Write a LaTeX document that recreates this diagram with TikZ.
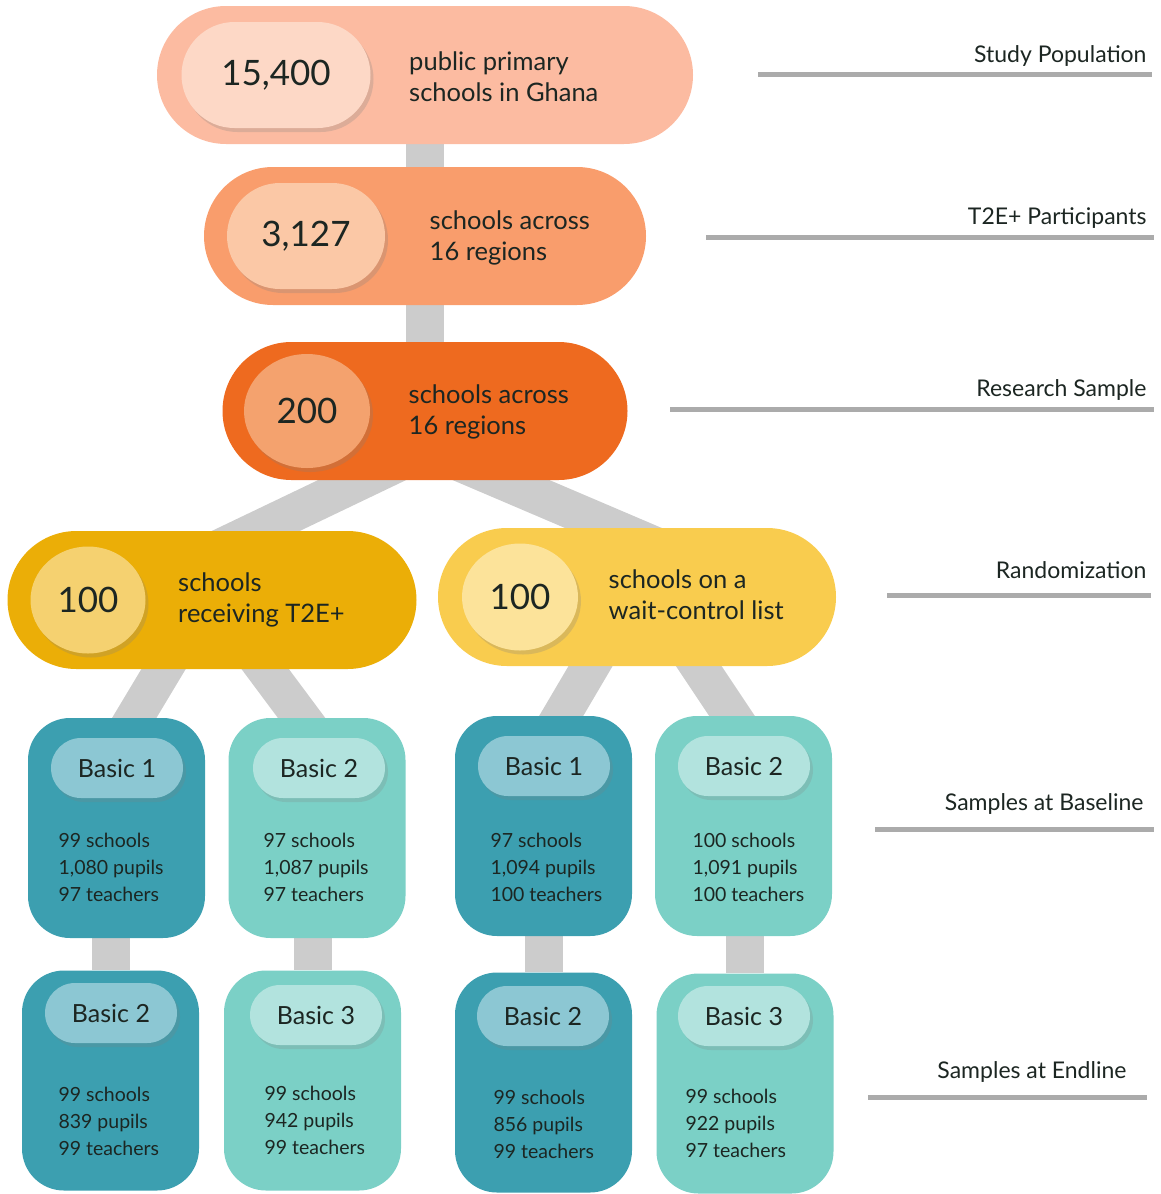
\documentclass[tikz,border=0pt]{standalone}
\usepackage{fontspec}
\setmainfont{Lato}
\usepackage{tikz}
\usetikzlibrary{
    shapes.geometric,
    shapes.misc,
    positioning,
    calc,
    shadows,
    backgrounds,
}
\usepackage{xcolor}
\definecolor{inkdark}{HTML}{1C2622}
\definecolor{popouter}{HTML}{FCBBA1}
\definecolor{popinner}{HTML}{FDD8C6}
\definecolor{partouter}{HTML}{F99D6C}
\definecolor{partinner}{HTML}{FBC8A6}
\definecolor{sampouter}{HTML}{EE6A1F}
\definecolor{sampinner}{HTML}{F4A26E}
\definecolor{treatouter}{HTML}{EBAE07}
\definecolor{treatinner}{HTML}{F5D170}
\definecolor{waitouter}{HTML}{F9CC4E}
\definecolor{waitinner}{HTML}{FCE39A}
\definecolor{tealdark}{HTML}{3C9FB0}
\definecolor{tagdark}{HTML}{8CC7D3}
\definecolor{teallight}{HTML}{7BD0C6}
\definecolor{taglight}{HTML}{B2E3DE}
\definecolor{bargray}{HTML}{CCCCCC}
\definecolor{rulegray}{HTML}{ABABAB}
\newcommand{\bigfont}{\fontsize{35}{40}\selectfont}
\newcommand{\midfont}{\fontsize{25.5}{31}\selectfont}
\newcommand{\tagfont}{\fontsize{25}{28}\selectfont}
\newcommand{\datafont}{\fontsize{19.5}{27}\selectfont}
\newcommand{\stagefont}{\fontsize{23}{26}\selectfont}

\begin{document}
\begin{tikzpicture}[
    x=1pt, y=-1pt,
    every node/.style = {text=inkdark},
    pill/.style   = {rounded rectangle, minimum height=138pt, inner sep=0pt},
    numpill/.style = {rounded rectangle, minimum height=106pt, inner sep=0pt,
                      font=\bigfont,
                      drop shadow={shadow xshift=3pt, shadow yshift=-4pt,
                                   opacity=0.25}},
    numdisc/.style = {ellipse, inner sep=0pt, font=\bigfont,
                      drop shadow={shadow xshift=3pt, shadow yshift=-4pt,
                                   opacity=0.25}},
    blurb/.style  = {font=\midfont, align=left},
    gradebox/.style = {rectangle, rounded corners=42pt,
                       minimum width=177pt, minimum height=220pt},
    darkbox/.style  = {gradebox, fill=tealdark},
    lightbox/.style = {gradebox, fill=teallight},
    gradetag/.style = {rounded rectangle, minimum width=132pt,
                       minimum height=60pt, inner sep=0pt, font=\tagfont,
                       drop shadow={shadow xshift=3pt, shadow yshift=-4pt,
                                    opacity=0.22}},
    counts/.style = {font=\datafont, align=left, anchor=west},
    bar/.style    = {draw=bargray, line width=38pt},
    stage/.style  = {font=\stagefont, anchor=base east},
    rule/.style   = {draw=rulegray, line width=5pt},
]
\useasboundingbox (0,0) rectangle (1160,1194);

%% -- Funnel: population, participants, sample --------------------------------
\node[pill, fill=popouter,  minimum width=536pt] (pop)  at (425,  75) {};
\node[pill, fill=partouter, minimum width=442pt] (part) at (425, 236) {};
\node[pill, fill=sampouter, minimum width=405pt] (samp) at (425, 411) {};

\node[numpill, fill=popinner,  minimum width=189pt] (n15400) at (276,  75) {15,400};
\node[numpill, fill=partinner, minimum width=158pt] (n3127)  at (306, 236) {3,127};
\node[numdisc, fill=sampinner, minimum width=126pt, minimum height=114pt]
    (n200) at (307, 411) {200};

\node[blurb, right=35pt of n15400, yshift=-2pt] {public primary\\schools in Ghana};
\node[blurb, right=41pt of n3127,  yshift=-2pt] {schools across\\16 regions};
\node[blurb, right=35pt of n200,   yshift=-1pt] {schools across\\16 regions};

%% -- Randomization --------------------------------------------------------------
\node[pill, fill=treatouter, minimum width=409pt] (treat) at (212, 600) {};
\node[pill, fill=waitouter,  minimum width=398pt] (wait)  at (637, 597) {};

\node[numdisc, fill=treatinner, minimum width=115pt, minimum height=107pt]
    (n100a) at (88, 600) {100};
\node[numdisc, fill=waitinner,  minimum width=116pt, minimum height=107pt]
    (n100b) at (520, 597) {100};

\node[blurb, right=29pt of n100a] {schools\\receiving T2E+};
\node[blurb, right=27pt of n100b, yshift=2pt] {schools on a\\wait-control list};

%% -- Baseline boxes -----------------------------------------------------------
\node[darkbox]  (baseA) at (116.5, 828) {};
\node[lightbox] (baseB) at (317,   828) {};
\node[darkbox]  (baseC) at (543.5, 826) {};
\node[lightbox] (baseD) at (743.5, 826) {};

\node[gradetag, fill=tagdark]  (tagA) at (117, 768) {Basic 1};
\node[gradetag, fill=taglight] (tagB) at (319, 768) {Basic 2};
\node[gradetag, fill=tagdark]  (tagC) at (544, 766) {Basic 1};
\node[gradetag, fill=taglight] (tagD) at (744, 766) {Basic 2};

\node[counts] (cntA) at (55,  867) {99 schools\\1,080 pupils\\97 teachers};
\node[counts] (cntB) at (260, 867) {97 schools\\1,087 pupils\\97 teachers};
\node[counts] (cntC) at (487, 867) {97 schools\\1,094 pupils\\100 teachers};
\node[counts] (cntD) at (689, 867) {100 schools\\1,091 pupils\\100 teachers};

%% -- Endline boxes ------------------------------------------------------------
\node[darkbox]  (endA) at (110.5, 1080.5) {};
\node[lightbox] (endB) at (312.5, 1080.5) {};
\node[darkbox]  (endC) at (543.5, 1082.5) {};
\node[lightbox] (endD) at (745,   1083.5) {};

\node[gradetag, fill=tagdark]  (etagA) at (111, 1013) {Basic 2};
\node[gradetag, fill=taglight] (etagB) at (316, 1015) {Basic 3};
\node[gradetag, fill=tagdark]  (etagC) at (543, 1016) {Basic 2};
\node[gradetag, fill=taglight] (etagD) at (744, 1016) {Basic 3};

\node[counts] (ecntA) at (55,  1121) {99 schools\\839 pupils\\99 teachers};
\node[counts] (ecntB) at (261, 1120) {99 schools\\942 pupils\\99 teachers};
\node[counts] (ecntC) at (490, 1124) {99 schools\\856 pupils\\99 teachers};
\node[counts] (ecntD) at (682, 1123) {99 schools\\922 pupils\\97 teachers};

%% -- Grey links (behind) --------------------------------------------------------
\coordinate (splitL)  at (404, 460);  \coordinate (joinL)  at (216, 550);
\coordinate (splitR)  at (454, 460);  \coordinate (joinR)  at (665, 550);
\coordinate (forkA)   at (175, 650);  \coordinate (tipA)   at (121, 740);
\coordinate (forkB)   at (251, 650);  \coordinate (tipB)   at (318, 740);
\coordinate (forkC)   at (600, 650);  \coordinate (tipC)   at (547, 740);
\coordinate (forkD)   at (688, 650);  \coordinate (tipD)   at (748, 740);

\begin{scope}[on background layer]
    \draw[bar] (pop) -- (part);
    \draw[bar] (part) -- (samp);
    \draw[bar] (splitL) -- (joinL);
    \draw[bar] (splitR) -- (joinR);
    \draw[bar] (forkA) -- (tipA);
    \draw[bar] (forkB) -- (tipB);
    \draw[bar] (forkC) -- (tipC);
    \draw[bar] (forkD) -- (tipD);
    \draw[bar] (baseA.south -| endA) -- (endA);
    \draw[bar] (baseB.south -| endB) -- (endB);
    \draw[bar] (baseC.south -| endC) -- (endC);
    \draw[bar] (baseD.south -| endD) -- (endD);
\end{scope}

%% -- Stage labels (right) -----------------------------------------------------
\node[stage] (lblPop)  at (1150,   62) {Study Population};
\node[stage] (lblPart) at (1150,  224) {T2E+ Participants};
\node[stage] (lblSamp) at (1150,  396) {Research Sample};
\node[stage] (lblRand) at (1150,  578) {Randomization};
\node[stage] (lblBase) at (1147,  810) {Samples at Baseline};
\node[stage] (lblEnd)  at (1130, 1078) {Samples at Endline};

\draw[rule] (758,   74) -- (1152,   74);
\draw[rule] (706,  237) -- (1154,  237);
\draw[rule] (670,  409) -- (1154,  409);
\draw[rule] (887,  595) -- (1151,  595);
\draw[rule] (875,  829) -- (1154,  829);
\draw[rule] (868, 1097) -- (1147, 1097);

\end{tikzpicture}
\end{document}
